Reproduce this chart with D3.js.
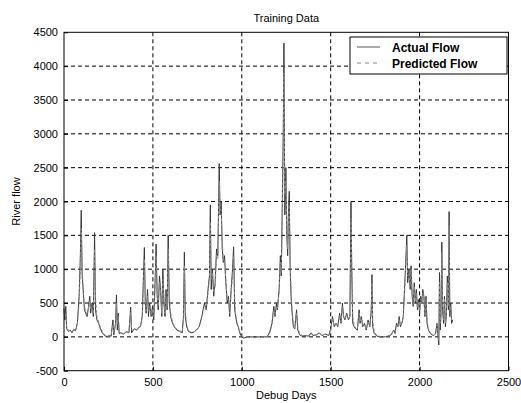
<!DOCTYPE html>
<html>
<head>
<meta charset="utf-8">
<script src="https://cdn.jsdelivr.net/npm/d3@7"></script>
<style>
  body { margin: 0; background: #fff; }
  svg { font-family: "Liberation Sans", Arial, sans-serif; }
</style>
</head>
<body>
<div class="box"></div>
<script>
const boxWidth = 521
const boxHeight = 403

const xTicks = [0, 500, 1000, 1500, 2000, 2500]
const yTicks = [-500, 0, 500, 1000, 1500, 2000, 2500, 3000, 3500, 4000, 4500]

const days = [
  0, 5, 10, 15, 25, 35, 45, 55, 65, 75,
  85, 92, 97, 102, 108, 115, 122, 130, 138, 145,
  150, 158, 165, 172, 177, 185, 195, 205, 215, 225,
  235, 245, 255, 265, 275, 280, 290, 295, 300, 305,
  310, 320, 335, 350, 365, 375, 380, 395, 410, 420,
  430, 440, 447, 452, 457, 462, 470, 475, 482, 490,
  498, 505, 512, 518, 524, 530, 537, 543, 550, 556,
  562, 568, 574, 580, 586, 592, 600, 610, 620, 635,
  650, 665, 672, 677, 682, 690, 700, 715, 730, 745,
  760, 775, 790, 800, 810, 818, 823, 828, 835, 842,
  850, 858, 865, 873, 878, 884, 890, 896, 903, 910,
  918, 925, 932, 940, 948, 954, 960, 966, 972, 980,
  988, 995, 1000, 1010, 1030, 1060, 1100, 1140, 1150, 1160,
  1170, 1180, 1187, 1195, 1200, 1210, 1217, 1222, 1228, 1233,
  1237, 1242, 1248, 1253, 1258, 1262, 1267, 1272, 1277, 1283,
  1290, 1298, 1308, 1315, 1325, 1340, 1360, 1375, 1390, 1400,
  1420, 1435, 1450, 1470, 1490, 1500, 1510, 1520, 1530, 1540,
  1550, 1558, 1566, 1572, 1580, 1590, 1600, 1608, 1614, 1618,
  1624, 1632, 1640, 1650, 1660, 1665, 1672, 1680, 1690, 1700,
  1710, 1720, 1728, 1732, 1736, 1745, 1760, 1780, 1800, 1820,
  1840, 1855, 1862, 1870, 1878, 1885, 1892, 1900, 1908, 1915,
  1922, 1928, 1933, 1940, 1947, 1952, 1958, 1964, 1970, 1976,
  1982, 1988, 1994, 2000, 2006, 2012, 2018, 2024, 2030, 2036,
  2042, 2050, 2060, 2070, 2080, 2090, 2098, 2104, 2108, 2112,
  2116, 2120, 2125, 2129, 2135, 2140, 2145, 2150, 2156, 2162,
  2166, 2170, 2175, 2180, 2186
]

const actualFlow = [
  420, 250, 450, 120, 80, 100, 60, 110, 90, 200,
  600, 1200, 1870, 900, 700, 400, 350, 300, 450, 600,
  350, 500, 300, 1540, 400, 250, 200, 120, 60, 30,
  10, 5, 20, 10, 250, 30, 200, 620, 100, 350,
  50, 60, 40, 80, 60, 440, 60, 120, 100, 140,
  150, 300, 900, 1320, 500, 350, 700, 300, 500, 300,
  450, 250, 800, 1370, 600, 400, 900, 700, 300, 1000,
  500, 300, 700, 400, 1500, 500, 300, 200, 150, 100,
  80, 60, 300, 1250, 300, 150, 80, 60, 70, 100,
  150, 300, 500, 400, 700, 900, 1950, 700, 1000, 600,
  800, 1300, 1200, 2560, 1800, 2000, 1300, 1100, 1200, 800,
  500, 600, 300, 700, 1000, 1330, 400, 300, 200, 150,
  60, 20, 0, -20, 0, 0, 0, 0, 30, 100,
  200, 450, 300, 500, 400, 700, 1200, 900, 2000, 3000,
  4340, 1800, 2500, 1500, 1200, 1800, 2150, 1000, 600, 350,
  150, 120, 400, 100, 30, 10, 20, 10, 60, 20,
  30, 60, 20, 40, 20, 120, 300, 150, 200, 150,
  350, 200, 500, 300, 250, 350, 250, 300, 2000, 1050,
  200, 150, 120, 100, 400, 200, 300, 150, 200, 100,
  250, 150, 400, 920, 150, 50, 10, 0, 0, 10,
  30, 100, 50, 200, 150, 300, 150, 200, 300, 700,
  1100, 1500, 800, 1000, 700, 1050, 600, 450, 800, 500,
  700, 400, 550, 350, 600, 500, 700, 600, 300, 600,
  200, 100, 50, 30, 20, 50, 200, 0, -120, 950,
  100, 300, 1400, 400, 200, 600, 150, 300, 900, 400,
  1850, 300, 500, 200, 250
]

const predictedFlow = [
  380, 300, 350, 150, 100, 90, 80, 100, 100, 180,
  500, 1000, 1600, 1100, 650, 450, 380, 320, 420, 550,
  400, 450, 350, 1300, 600, 300, 220, 140, 80, 40,
  20, 10, 15, 20, 180, 60, 180, 500, 180, 300,
  80, 60, 50, 70, 70, 360, 100, 110, 100, 130,
  160, 280, 750, 1150, 650, 380, 600, 380, 450, 320,
  400, 300, 700, 1200, 700, 450, 800, 650, 350, 850,
  550, 350, 600, 450, 1300, 650, 350, 220, 160, 110,
  90, 70, 250, 1050, 400, 180, 90, 70, 70, 100,
  150, 280, 450, 420, 650, 850, 1700, 850, 950, 650,
  750, 1200, 1150, 2300, 1900, 1850, 1400, 1150, 1100, 850,
  550, 550, 350, 650, 900, 1200, 550, 320, 220, 160,
  80, 30, 10, 0, 0, 0, 0, 0, 20, 80,
  180, 400, 320, 450, 420, 650, 1100, 950, 1800, 2700,
  3900, 2100, 2300, 1600, 1300, 1700, 1950, 1150, 700, 400,
  180, 130, 350, 140, 50, 20, 20, 15, 50, 25,
  30, 50, 25, 40, 25, 100, 260, 170, 190, 160,
  320, 220, 450, 320, 260, 330, 260, 300, 1750, 1200,
  300, 170, 130, 110, 350, 220, 280, 170, 190, 110,
  220, 160, 350, 800, 250, 70, 20, 5, 0, 10,
  30, 90, 60, 180, 160, 270, 170, 200, 280, 600,
  1000, 1350, 900, 950, 750, 1000, 650, 480, 750, 520,
  650, 430, 520, 380, 560, 500, 650, 580, 330, 550,
  230, 120, 60, 35, 25, 45, 180, 30, -60, 800,
  200, 320, 1250, 500, 250, 550, 200, 320, 800, 450,
  1650, 400, 450, 250, 250
]

const plotLeft = 64, plotRight = 508.5, plotTop = 32.3, plotBottom = 370.7

const x = d3.scaleLinear().domain([0, 2500]).range([plotLeft, plotRight])
const y = d3.scaleLinear().domain([-500, 4500]).range([plotBottom, plotTop])

const svg = d3.select('.box')
              .append('svg')
              .attr('width', boxWidth)
              .attr('height', boxHeight)

// dashed grid
svg.selectAll('.vgrid')
   .data(xTicks.slice(1, -1)).enter()
   .append('line')
   .attr('x1', d => x(d)).attr('x2', d => x(d))
   .attr('y1', plotTop).attr('y2', plotBottom)
   .attr('stroke', '#000').attr('stroke-width', 1)
   .attr('stroke-dasharray', '4,3')

svg.selectAll('.hgrid')
   .data(yTicks.slice(1, -1)).enter()
   .append('line')
   .attr('x1', plotLeft).attr('x2', plotRight)
   .attr('y1', d => y(d)).attr('y2', d => y(d))
   .attr('stroke', '#000').attr('stroke-width', 1)
   .attr('stroke-dasharray', '4,3')

const flowLine = d3.line().x((d, i) => x(days[i])).y(d => y(d))

svg.append('path')
   .datum(actualFlow)
   .attr('d', flowLine)
   .attr('fill', 'none')
   .attr('stroke', '#383838')
   .attr('stroke-width', 1)

svg.append('path')
   .datum(predictedFlow)
   .attr('d', flowLine)
   .attr('fill', 'none')
   .attr('stroke', '#8c8c8c')
   .attr('stroke-width', 1)
   .attr('stroke-dasharray', '3,2')

// axes
const plainFmt = d => String(d)
svg.append('g')
   .attr('transform', `translate(0, ${plotBottom})`)
   .call(d3.axisBottom(x).tickValues(xTicks).tickFormat(plainFmt)
           .tickSizeInner(-4).tickSizeOuter(0).tickPadding(8))
svg.append('g')
   .attr('transform', `translate(${plotLeft}, 0)`)
   .call(d3.axisLeft(y).tickValues(yTicks).tickFormat(plainFmt)
           .tickSizeInner(-4).tickSizeOuter(0).tickPadding(6))

svg.selectAll('.tick text')
   .attr('font-size', 11)
   .attr('font-family', '"Liberation Sans", Arial, sans-serif')
   .attr('fill', '#000')
svg.selectAll('.domain').remove()

svg.append('rect')
   .attr('x', plotLeft).attr('y', plotTop)
   .attr('width', plotRight - plotLeft).attr('height', plotBottom - plotTop)
   .attr('fill', 'none')
   .attr('stroke', '#000')
   .attr('stroke-width', 1)

svg.append('text')
   .attr('x', (plotLeft + plotRight) / 2).attr('y', 22)
   .attr('text-anchor', 'middle')
   .attr('font-size', 11)
   .text('Training Data')

svg.append('text')
   .attr('x', (plotLeft + plotRight) / 2).attr('y', 399)
   .attr('text-anchor', 'middle')
   .attr('font-size', 11)
   .text('Debug Days')

svg.append('text')
   .attr('transform', `translate(20, ${(plotTop + plotBottom) / 2}) rotate(-90)`)
   .attr('text-anchor', 'middle')
   .attr('font-size', 11)
   .text('River flow')

// legend
const legend = svg.append('g')
legend.append('rect')
   .attr('x', 350).attr('y', 37)
   .attr('width', 157).attr('height', 37)
   .attr('fill', '#fff').attr('stroke', '#000')

const legendItems = ['Actual Flow', 'Predicted Flow']
legend.selectAll('.lline')
   .data(legendItems).enter()
   .append('line')
   .attr('x1', 357).attr('x2', 380)
   .attr('y1', (d, i) => 47 + i * 16).attr('y2', (d, i) => 47 + i * 16)
   .attr('stroke', (d, i) => i ? '#8c8c8c' : '#555')
   .attr('stroke-dasharray', (d, i) => i ? '4,4' : null)

legend.selectAll('.ltext')
   .data(legendItems).enter()
   .append('text')
   .attr('x', 392).attr('y', (d, i) => 51.5 + i * 16)
   .attr('font-size', 12).attr('font-weight', 'bold')
   .text(d => d)
</script>
</body>
</html>
